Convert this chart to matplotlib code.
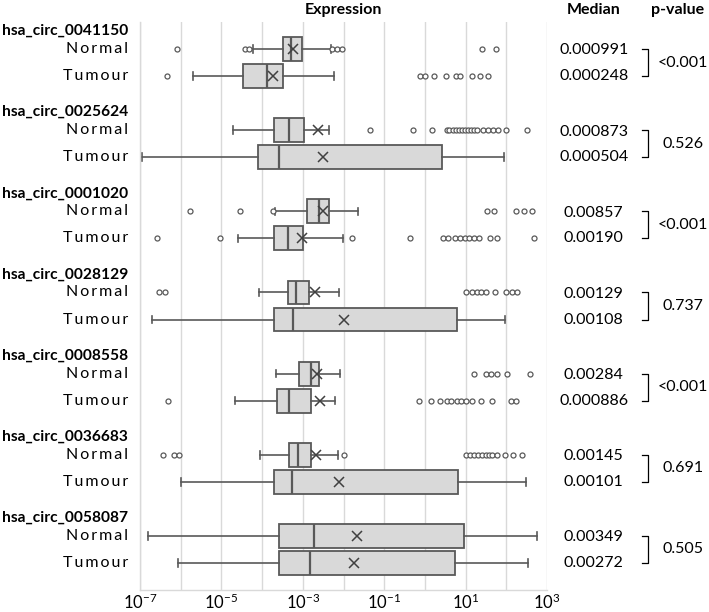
import matplotlib.pyplot as plt
from matplotlib.ticker import FixedLocator, NullFormatter

GENES = ["hsa_circ_0041150", "hsa_circ_0025624", "hsa_circ_0001020", "hsa_circ_0028129",
         "hsa_circ_0008558", "hsa_circ_0036683", "hsa_circ_0058087"]
GROUPS = ["Normal", "Tumour"]

# one entry per box, order: gene1 Normal, gene1 Tumour, gene2 Normal, ...
WHIS_LO = [6.0e-5, 2.0e-6, 1.95e-5, 1.1e-7, 2.1e-4, 2.5e-5, 8.3e-5, 1.95e-7,
           2.2e-4, 2.1e-5, 8.7e-5, 1.0e-6, 1.55e-7, 8.7e-7]
Q1 = [3.2e-4, 3.4e-5, 2.0e-4, 7.9e-5, 1.3e-3, 2.0e-4, 4.3e-4, 2.0e-4,
      8.1e-4, 2.3e-4, 4.6e-4, 1.95e-4, 2.6e-4, 2.6e-4]
MED = [5.2e-4, 1.35e-4, 4.7e-4, 2.6e-4, 2.5e-3, 4.3e-4, 6.9e-4, 5.8e-4,
       1.55e-3, 4.7e-4, 7.8e-4, 5.5e-4, 1.9e-3, 1.5e-3]
Q3 = [9.3e-4, 3.2e-4, 1.1e-3, 2.6, 4.5e-3, 1.0e-3, 1.45e-3, 6.3,
      2.45e-3, 1.6e-3, 1.55e-3, 6.6, 8.9, 5.6]
WHIS_HI = [4.9e-3, 6.0e-3, 4.4e-3, 89, 0.023, 9.5e-3, 7.9e-3, 93,
           8.1e-3, 6.3e-3, 7.2e-3, 300, 560, 340]
MEAN = [5.6e-4, 1.9e-4, 2.3e-3, 3.1e-3, 3.2e-3, 9.5e-4, 1.95e-3, 0.0105,
        2.2e-3, 2.6e-3, 2.1e-3, 7.9e-3, 0.021, 0.018]
FLIERS = [
    [8.3e-7, 3.7e-5, 4.8e-5, 5.2e-3, 6.9e-3, 9.1e-3, 26, 55],
    [4.6e-7, 0.76, 0.98, 1.66, 3.3, 5.8, 7.2, 14, 23, 36],
    [0.046, 0.52, 1.5, 3.4, 4.0, 4.8, 5.7, 6.8, 8.0, 9.5, 11.3, 13.4, 16, 19,
     27, 36, 48, 63, 98, 320],
    [],
    [1.7e-6, 2.9e-5, 1.86e-4, 34, 50, 170, 280, 420],
    [2.6e-7, 9.5e-6, 0.016, 0.42, 2.8, 3.8, 5.5, 7.3, 9.6, 12.2, 16.3, 21, 40, 60, 470],
    [2.9e-7, 4.0e-7, 10.5, 14, 18.6, 24.5, 32, 52, 100, 135, 186],
    [],
    [16, 32, 42, 58, 105, 380],
    [4.8e-7, 0.72, 1.4, 2.4, 3.4, 4.5, 6.0, 7.9, 10.5, 14, 24, 44, 129, 170],
    [3.6e-7, 6.9e-7, 9.1e-7, 0.0105, 10.5, 13, 16, 20, 25, 31, 38, 44, 58, 91, 150, 245],
    [],
    [],
    [],
]

MEDIAN_TXT = ["0.000991", "0.000248", "0.000873", "0.000504", "0.00857", "0.00190",
              "0.00129", "0.00108", "0.00284", "0.000886", "0.00145", "0.00101",
              "0.00349", "0.00272"]
P_VALUES = ["<0.001", "0.526", "<0.001", "0.737", "<0.001", "0.691", "0.505"]

FONT = ["Lato", "DejaVu Sans"]
EDGE = "#595959"
GRID = "#d9d9d9"


def build_stats():
    stats = []
    for i in range(len(MED)):
        stats.append({
            "whislo": WHIS_LO[i], "q1": Q1[i], "med": MED[i], "q3": Q3[i],
            "whishi": WHIS_HI[i], "mean": MEAN[i], "fliers": FLIERS[i],
        })
    return stats


def main():
    plt.rcParams["font.family"] = FONT
    plt.rcParams["mathtext.default"] = "regular"
    fig = plt.figure(figsize=(7.09, 6.12), dpi=100)
    ax = fig.add_axes([140 / 709, 22 / 612, 407 / 709, 568 / 612])

    positions = []
    for g in range(len(GENES)):
        positions += [3 * g + 1, 3 * g + 2]

    ax.set_xscale("log")
    ax.bxp(build_stats(), positions=positions, widths=0.88, orientation="horizontal",
           patch_artist=True, showmeans=True, manage_ticks=False, capwidths=0.28,
           boxprops=dict(facecolor="#d9d9d9", edgecolor=EDGE, linewidth=1.3),
           medianprops=dict(color=EDGE, linewidth=1.6),
           whiskerprops=dict(color=EDGE, linewidth=1.2),
           capprops=dict(color=EDGE, linewidth=1.2),
           flierprops=dict(marker="o", markersize=3.6, markerfacecolor="white",
                           markeredgecolor=EDGE, markeredgewidth=0.9),
           meanprops=dict(marker="x", markersize=7, markeredgecolor="#404040",
                          markeredgewidth=1.1))

    ax.set_xlim(1e-7, 1e3)
    ax.set_ylim(21, 0)
    ax.xaxis.set_major_locator(FixedLocator([10.0 ** e for e in range(-7, 4, 2)]))
    ax.xaxis.set_minor_locator(FixedLocator([10.0 ** e for e in range(-6, 3, 2)]))
    ax.xaxis.set_minor_formatter(NullFormatter())
    ax.grid(True, axis="x", which="both", color=GRID, linewidth=1)
    ax.set_axisbelow(True)
    ax.tick_params(axis="x", which="both", length=0, labelsize=12, pad=2)
    ax.set_yticks([])
    for side in ["top", "right"]:
        ax.spines[side].set_visible(False)
    for side in ["left", "bottom"]:
        ax.spines[side].set_color(GRID)
        ax.spines[side].set_linewidth(1)

    tr = ax.get_yaxis_transform()
    for g, gene in enumerate(GENES):
        y0 = 3 * g
        ax.text(-0.03, y0 + 0.33, gene, transform=tr, ha="right", va="center",
                fontsize=11.2, fontweight="bold")
        for k, grp in enumerate(GROUPS):
            spaced = "\u2009".join(grp)
            ax.text(-0.03, y0 + 1 + k, spaced, transform=tr, ha="right", va="center",
                    fontsize=11.5)
            ax.text(1.115, y0 + 1.05 + k * 0.95, MEDIAN_TXT[2 * g + k], transform=tr,
                    ha="center", va="center", fontsize=11.5)
        ax.plot([1.233, 1.248, 1.248, 1.233], [y0 + 1.0, y0 + 1.0, y0 + 2.0, y0 + 2.0],
                transform=tr, color="black", linewidth=0.9, clip_on=False)
        ax.text(1.334, y0 + 1.5, P_VALUES[g], transform=tr, ha="center", va="center",
                fontsize=11.5)

    ax.text(0.5, -0.45, "Expression", transform=tr, ha="center", va="center",
            fontsize=11.5, fontweight="bold")
    ax.text(1.115, -0.45, "Median", transform=tr, ha="center", va="center",
            fontsize=11.5, fontweight="bold")
    ax.text(1.322, -0.45, "p-value", transform=tr, ha="center", va="center",
            fontsize=11.5, fontweight="bold")

    fig.savefig("out.png", dpi=100)
    plt.close(fig)


if __name__ == "__main__":
    main()
